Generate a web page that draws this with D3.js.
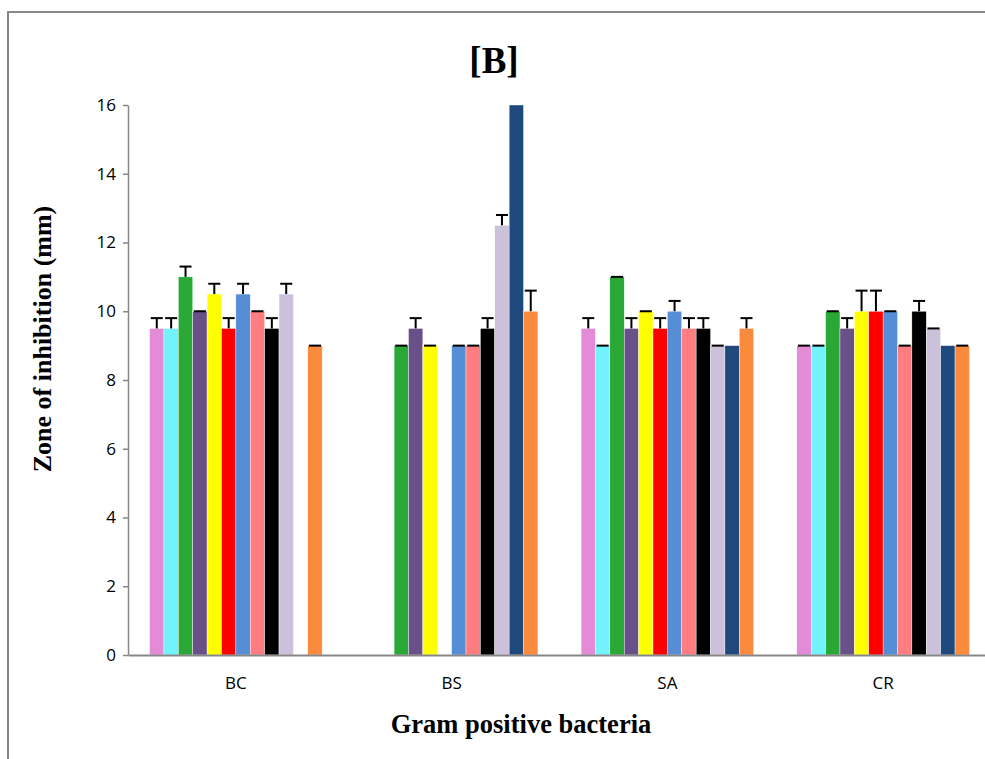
<!DOCTYPE html>
<html>
<head>
<meta charset="utf-8">
<script src="https://cdn.jsdelivr.net/npm/d3@7"></script>
<style>
  body { margin: 0; background: #fff; }
  svg { display: block; }
</style>
</head>
<body>
<svg></svg>
<script>
// chart data
var categories = ["BC", "BS", "SA", "CR"];
var seriesNames = ["s1", "s2", "s3", "s4", "s5", "s6", "s7", "s8", "s9", "s10", "s11", "s12"];
var seriesColors = ["#e38bd7", "#72f2fa", "#29a836", "#6a5088", "#ffff00", "#ff0000",
                    "#558ed5", "#ff7c80", "#000000", "#ccc1da", "#1f497d", "#fb8b3c"];
// values[series][category]
var values = [
  [9.5, 0, 9.5, 9],
  [9.5, 0, 9, 9],
  [11, 9, 11, 10],
  [10, 9.5, 9.5, 9.5],
  [10.5, 9, 10, 10],
  [9.5, 0, 9.5, 10],
  [10.5, 9, 10, 10],
  [10, 9, 9.5, 9],
  [9.5, 9.5, 9.5, 10],
  [10.5, 12.5, 9, 9.5],
  [0, 16, 9, 9],
  [9, 10, 9.5, 9]
];
// upward error bars, null = none drawn
var errors = [
  [0.3, null, 0.3, 0],
  [0.3, null, 0, 0],
  [0.3, 0, 0, 0],
  [0, 0.3, 0.3, 0.3],
  [0.3, 0, 0, 0.6],
  [0.3, null, 0.3, 0.6],
  [0.3, 0, 0.3, 0],
  [0, 0, 0.3, 0],
  [0.3, 0.3, 0.3, 0.3],
  [0.3, 0.3, 0, 0],
  [null, null, null, null],
  [0, 0.6, 0.3, 0]
];
var yTicks = [0, 2, 4, 6, 8, 10, 12, 14, 16];

var width = 985, height = 759;
var svg = d3.select("svg").attr("width", width).attr("height", height);

// outer frame (runs off the right and bottom edge)
svg.append("rect")
  .attr("x", 8).attr("y", 12)
  .attr("width", 1000).attr("height", 800)
  .attr("fill", "none")
  .attr("stroke", "#878787")
  .attr("stroke-width", 2);

var x0 = d3.scaleBand()
  .domain(categories)
  .range([128, 991])
  .paddingInner(0.2)
  .paddingOuter(0.1);

var x1 = d3.scaleBand()
  .domain(seriesNames)
  .range([0, x0.bandwidth()]);

var y = d3.scaleLinear().domain([0, 16]).range([655, 105]);

// bars
var rows = [];
seriesNames.forEach(function(s, i) {
  categories.forEach(function(c, j) {
    rows.push({ s: s, i: i, c: c, v: values[i][j], e: errors[i][j] });
  });
});

svg.append("g").selectAll("rect")
  .data(rows.filter(d => d.v > 0))
  .enter()
  .append("rect")
  .attr("x", d => x0(d.c) + x1(d.s))
  .attr("y", d => y(d.v))
  .attr("width", x1.bandwidth())
  .attr("height", d => y(0) - y(d.v))
  .attr("fill", d => seriesColors[d.i])
  .attr("stroke", "#fff")
  .attr("stroke-width", 0.4);

// error bars
var eb = svg.append("g").attr("stroke", "#000").attr("stroke-width", 2);
var withErr = rows.filter(d => d.v > 0 && d.e !== null);
eb.selectAll("line.stem")
  .data(withErr.filter(d => d.e > 0))
  .enter()
  .append("line")
  .attr("class", "stem")
  .attr("x1", d => x0(d.c) + x1(d.s) + x1.bandwidth() / 2)
  .attr("x2", d => x0(d.c) + x1(d.s) + x1.bandwidth() / 2)
  .attr("y1", d => y(d.v))
  .attr("y2", d => y(d.v + d.e));
eb.selectAll("line.cap")
  .data(withErr)
  .enter()
  .append("line")
  .attr("class", "cap")
  .attr("x1", d => x0(d.c) + x1(d.s) + x1.bandwidth() / 2 - 6)
  .attr("x2", d => x0(d.c) + x1(d.s) + x1.bandwidth() / 2 + 6)
  .attr("y1", d => y(d.v + d.e))
  .attr("y2", d => y(d.v + d.e));

// axes
var yAxis = svg.append("g")
  .attr("transform", "translate(128,0)")
  .call(d3.axisLeft(y).tickValues(yTicks).tickSize(5).tickSizeOuter(0).tickPadding(7));
yAxis.select(".domain").attr("stroke", "#878787").attr("stroke-width", 1.5);
yAxis.selectAll(".tick line").attr("stroke", "#878787").attr("stroke-width", 1.5);
yAxis.selectAll("text")
  .style("font-family", "'Open Sans', sans-serif")
  .style("font-size", "17px")
  .attr("fill", "#000");

var xAxis = svg.append("g")
  .attr("transform", "translate(0,655)")
  .call(d3.axisBottom(x0).tickSize(0).tickPadding(22));
xAxis.select(".domain").attr("stroke", "#878787").attr("stroke-width", 2);
xAxis.selectAll("text")
  .style("font-family", "'Open Sans', sans-serif")
  .style("font-size", "17px")
  .attr("fill", "#000");

// titles
svg.append("text")
  .attr("x", 494).attr("y", 73)
  .attr("text-anchor", "middle")
  .style("font-family", "'Liberation Serif', 'Times New Roman', serif")
  .style("font-weight", "bold")
  .style("font-size", "37px")
  .text("[B]");

svg.append("text")
  .attr("transform", "translate(51,339) rotate(-90)")
  .attr("text-anchor", "middle")
  .style("font-family", "'Liberation Serif', 'Times New Roman', serif")
  .style("font-weight", "bold")
  .style("font-size", "26px")
  .text("Zone of inhibition (mm)");

svg.append("text")
  .attr("x", 521).attr("y", 733)
  .attr("text-anchor", "middle")
  .style("font-family", "'Liberation Serif', 'Times New Roman', serif")
  .style("font-weight", "bold")
  .style("font-size", "26.5px")
  .text("Gram positive bacteria");
</script>
</body>
</html>
